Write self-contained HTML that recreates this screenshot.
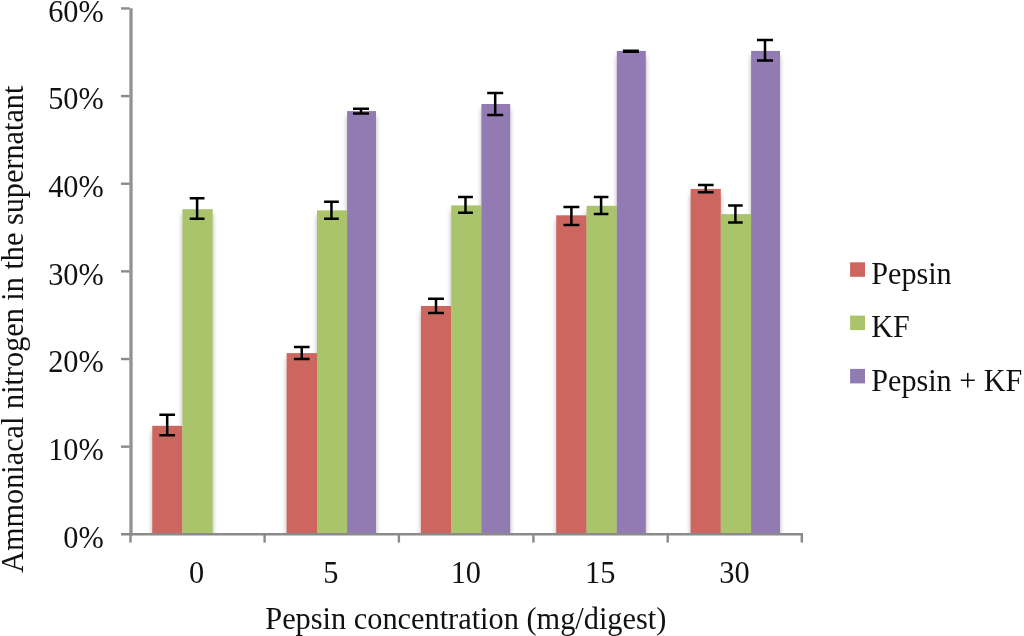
<!DOCTYPE html>
<html lang="en"><head><meta charset="utf-8"><title>Ammoniacal nitrogen chart</title>
<style>html,body{margin:0;padding:0;background:#fff;}body{width:1024px;height:636px;overflow:hidden;}svg{display:block;}text{font-family:"Liberation Serif","Times New Roman",serif;font-size:30.35px;fill:#111;}</style></head><body>
<svg width="1024" height="636" viewBox="0 0 1024 636">
<defs><filter id="sh" x="-5%" y="-5%" width="110%" height="110%"><feGaussianBlur in="SourceAlpha" stdDeviation="2.8" result="b"/><feOffset in="b" dx="0" dy="4.5" result="o"/><feComponentTransfer in="o" result="s"><feFuncA type="linear" slope="0.31"/></feComponentTransfer><feMerge><feMergeNode in="s"/><feMergeNode in="SourceGraphic"/></feMerge></filter></defs>
<rect width="1024" height="636" fill="#fff"/>
<clipPath id="cp"><rect x="0" y="0" width="1024" height="533.2"/></clipPath>
<g filter="url(#sh)" clip-path="url(#cp)">
<rect x="152.25" y="425.80" width="30.15" height="107.40" fill="#CE6660"/>
<rect x="182.40" y="209.20" width="30.30" height="324.00" fill="#A9C46B"/>
<rect x="286.60" y="353.10" width="30.40" height="180.10" fill="#CE6660"/>
<rect x="317.00" y="210.40" width="30.10" height="322.80" fill="#A9C46B"/>
<rect x="347.10" y="111.10" width="28.90" height="422.10" fill="#927AB3"/>
<rect x="420.90" y="306.00" width="30.30" height="227.20" fill="#CE6660"/>
<rect x="451.20" y="205.40" width="30.20" height="327.80" fill="#A9C46B"/>
<rect x="481.40" y="104.00" width="28.80" height="429.20" fill="#927AB3"/>
<rect x="556.25" y="215.30" width="30.35" height="317.90" fill="#CE6660"/>
<rect x="586.60" y="205.80" width="30.20" height="327.40" fill="#A9C46B"/>
<rect x="616.80" y="50.90" width="29.00" height="482.30" fill="#927AB3"/>
<rect x="690.60" y="188.90" width="30.20" height="344.30" fill="#CE6660"/>
<rect x="720.80" y="214.10" width="30.30" height="319.10" fill="#A9C46B"/>
<rect x="751.10" y="50.90" width="28.90" height="482.30" fill="#927AB3"/>
</g>
<g stroke="#8a8a8a" fill="none">
<line x1="131" y1="8.15" x2="131" y2="535.50" stroke-width="3.3" stroke="#929292"/>
<line x1="121" y1="534.3" x2="803" y2="534.3" stroke-width="2.4"/>
<line x1="121" y1="8.45" x2="129.6" y2="8.45" stroke-width="2.4"/>
<line x1="121" y1="96.09" x2="129.6" y2="96.09" stroke-width="2.4"/>
<line x1="121" y1="183.73" x2="129.6" y2="183.73" stroke-width="2.4"/>
<line x1="121" y1="271.37" x2="129.6" y2="271.37" stroke-width="2.4"/>
<line x1="121" y1="359.02" x2="129.6" y2="359.02" stroke-width="2.4"/>
<line x1="121" y1="446.66" x2="129.6" y2="446.66" stroke-width="2.4"/>
<line x1="130.5" y1="534.3" x2="130.5" y2="542.6" stroke-width="2.4"/>
<line x1="264.6" y1="534.3" x2="264.6" y2="542.6" stroke-width="2.4"/>
<line x1="398.9" y1="534.3" x2="398.9" y2="542.6" stroke-width="2.4"/>
<line x1="533.4" y1="534.3" x2="533.4" y2="542.6" stroke-width="2.4"/>
<line x1="667.7" y1="534.3" x2="667.7" y2="542.6" stroke-width="2.4"/>
<line x1="801.8" y1="534.3" x2="801.8" y2="542.6" stroke-width="2.4"/>
</g>
<g stroke="#000" stroke-width="2.5" fill="none">
<path d="M159.35 414.65H175.05M159.35 435.30H175.05M167.20 414.65V435.30"/>
<path d="M189.70 198.30H204.50M189.70 218.80H204.50M197.10 198.30V218.80"/>
<path d="M293.90 347.00H309.60M293.90 358.90H309.60M301.75 347.00V358.90"/>
<path d="M324.10 201.80H338.80M324.10 218.80H338.80M331.45 201.80V218.80"/>
<path d="M353.00 108.80H369.00M353.00 113.50H369.00M361.00 108.80V113.50"/>
<path d="M428.05 298.70H443.95M428.05 313.10H443.95M436.00 298.70V313.10"/>
<path d="M458.10 197.10H472.90M458.10 212.70H472.90M465.50 197.10V212.70"/>
<path d="M487.20 93.10H503.20M487.20 114.90H503.20M495.20 93.10V114.90"/>
<path d="M563.45 206.90H579.35M563.45 225.00H579.35M571.40 206.90V225.00"/>
<path d="M593.80 196.90H608.40M593.80 214.00H608.40M601.10 196.90V214.00"/>
<path d="M622.90 50.85H638.90M622.90 51.85H638.90M630.90 50.85V51.85"/>
<path d="M697.90 184.90H713.60M697.90 192.30H713.60M705.75 184.90V192.30"/>
<path d="M728.10 205.50H742.70M728.10 222.40H742.70M735.40 205.50V222.40"/>
<path d="M757.00 39.90H773.00M757.00 60.60H773.00M765.00 39.90V60.60"/>
</g>
<text transform="translate(103.80 21.75) scale(1 1.04)" text-anchor="end">60%</text>
<text transform="translate(103.80 109.39) scale(1 1.04)" text-anchor="end">50%</text>
<text transform="translate(103.80 197.03) scale(1 1.04)" text-anchor="end">40%</text>
<text transform="translate(103.80 284.67) scale(1 1.04)" text-anchor="end">30%</text>
<text transform="translate(103.80 372.32) scale(1 1.04)" text-anchor="end">20%</text>
<text transform="translate(103.80 459.96) scale(1 1.04)" text-anchor="end">10%</text>
<text transform="translate(103.80 547.60) scale(1 1.04)" text-anchor="end">0%</text>
<text transform="translate(196.55 583.00) scale(1 1.04)" text-anchor="middle">0</text>
<text transform="translate(330.85 583.00) scale(1 1.04)" text-anchor="middle">5</text>
<text transform="translate(465.85 583.00) scale(1 1.04)" text-anchor="middle">10</text>
<text transform="translate(600.15 583.00) scale(1 1.04)" text-anchor="middle">15</text>
<text transform="translate(734.45 583.00) scale(1 1.04)" text-anchor="middle">30</text>
<text transform="translate(465.80 628.50) scale(1 1.04)" text-anchor="middle">Pepsin concentration (mg/digest)</text>
<text transform="translate(23.00 329.20) rotate(-90) scale(1 1.04)" text-anchor="middle" style="font-size:30.25px">Ammoniacal nitrogen in the supernatant</text>
<rect x="850.1" y="262.30" width="14.9" height="14.5" fill="#CE6660"/>
<text transform="translate(871.30 283.90) scale(1 1.04)" style="font-size:30.15px">Pepsin</text>
<rect x="850.1" y="315.60" width="14.9" height="14.5" fill="#A9C46B"/>
<text transform="translate(871.30 337.20) scale(1 1.04)" style="font-size:30.15px">KF</text>
<rect x="850.1" y="368.90" width="14.9" height="14.5" fill="#927AB3"/>
<text transform="translate(871.30 390.50) scale(1 1.04)" style="font-size:30.15px">Pepsin + KF</text>
</svg></body></html>
